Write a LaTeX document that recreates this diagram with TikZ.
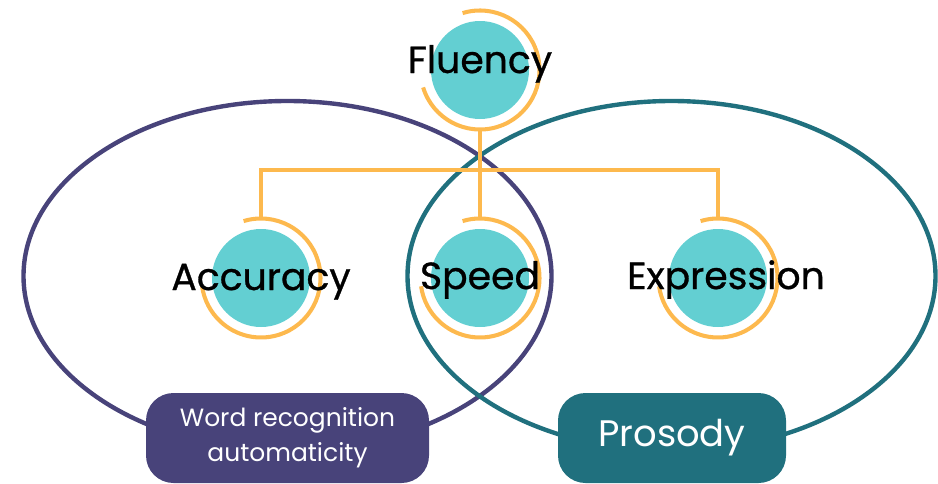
\documentclass[tikz,border=0pt]{standalone}
\usepackage{fontspec}
\setmainfont{Poppins}
\newfontfamily\medfont{Poppins}[FakeBold=0.8]
\usetikzlibrary{shapes.geometric,positioning,calc}
\definecolor{skillfill}{RGB}{99,207,210}
\definecolor{ringcol}{RGB}{253,185,78}
\definecolor{wordcol}{RGB}{72,67,122}
\definecolor{proscol}{RGB}{32,112,126}

\begin{document}
\begin{tikzpicture}[skill/.style={circle,fill=skillfill,minimum size=1.96cm,inner sep=0pt}, ring/.style={draw=ringcol,line width=2.3pt}, skilltext/.style={anchor=base,inner sep=0pt,font=\medfont\fontsize{21.5}{25}\selectfont}, set/.style={draw,ellipse,line width=2.5pt,minimum width=10.56cm,minimum height=7cm}, tag/.style={rounded corners=0.55cm,text=white,minimum height=1.8cm,align=center}, on grid, node distance=4.16cm]
  \useasboundingbox (0,0) rectangle (18.76,9.66);

  % the two sets
  \node[set,draw=wordcol] (wordset) at (5.75,4.14) {};
  \node[set,draw=proscol] (prosset) at (13.43,4.14) {};

  % skill circles
  \node[skill] (flu) at (9.6,8.26) {};
  \node[skill] (spd) [below=of flu] {};
  \node[skill] (acc) [left=4.38cm of spd] {};
  \node[skill] (expr) [right=4.76cm of spd] {};

  % rings round the circles
  \foreach \n/\e in {flu/-163,acc/-172,spd/-172,expr/-172}
    \draw[ring] ([shift={(107:1.19cm)}]\n.center) arc[start angle=107,end angle=\e,radius=1.19cm];

  % tree
  \coordinate (flubot) at ([yshift=-1.19cm]flu.center);
  \coordinate (hub) at (9.6,6.26);
  \coordinate (acctop) at ([yshift=1.19cm]acc.center);
  \coordinate (spdtop) at ([yshift=1.19cm]spd.center);
  \coordinate (exprtop) at ([yshift=1.19cm]expr.center);
  \draw[ring] (flubot) -- (hub) -- (spdtop);
  \draw[ring] (acctop) |- (hub) -| (exprtop);

  % labels
  \node[skilltext] (flutext) at ([yshift=-0.06cm]flu.center) {Fluency};
  \node[skilltext] (acctext) at ([yshift=-0.24cm]acc.center) {Accuracy};
  \node[skilltext] (spdtext) at ([yshift=-0.22cm]spd.center) {Speed};
  \node[skilltext] (exprtext) at ([xshift=0.16cm,yshift=-0.22cm]expr.center) {Expression};

  % set names
  \node[tag,fill=wordcol,minimum width=5.66cm,font=\fontsize{14.2}{20}\selectfont] (wordtag) at (5.75,0.9) {Word recognition\\automaticity};
  \node[tag,fill=proscol,minimum width=4.56cm,font=\fontsize{21}{24}\selectfont] (prostag) at (13.44,0.9) {Prosody};
\end{tikzpicture}
\end{document}
